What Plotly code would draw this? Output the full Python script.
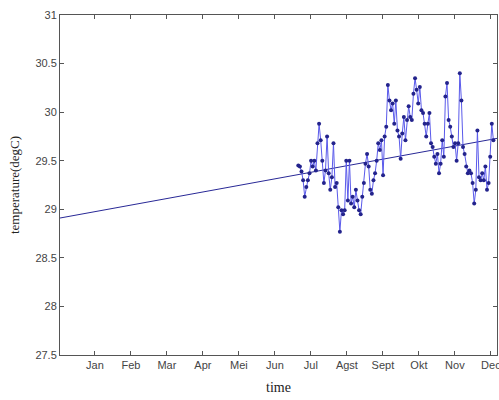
import numpy as np
import plotly.graph_objects as go

month_labels = ["Jan", "Feb", "Mar", "Apr", "Mei", "Jun", "Jul", "Agst", "Sept", "Okt", "Nov", "Dec"]
month_ticks = [1, 2, 3, 4, 5, 6, 7, 8, 9, 10, 11, 12]

temps = [29.45, 29.44, 29.39, 29.30, 29.13, 29.23, 29.30, 29.37, 29.50, 29.44,
         29.50, 29.40, 29.68, 29.88, 29.71, 29.50, 29.27, 29.40, 29.75, 29.37,
         29.20, 29.33, 29.68, 29.23, 29.27, 29.02, 28.77, 28.99, 28.95, 28.99,
         29.50, 29.09, 29.50, 29.06, 29.13, 29.02, 29.20, 29.09, 28.99, 28.95,
         29.13, 29.27, 29.47, 29.57, 29.44, 29.20, 29.16, 29.30, 29.37, 29.50,
         29.68, 29.61, 29.71, 29.35, 29.75, 29.85, 30.28, 30.12, 30.02, 30.09,
         29.88, 30.12, 29.81, 29.75, 29.52, 29.78, 29.95, 29.71, 29.92, 30.06,
         29.95, 29.92, 30.19, 30.35, 30.23, 30.09, 30.26, 30.02, 29.99, 29.88,
         29.75, 29.88, 29.99, 29.68, 29.64, 29.54, 29.47, 29.57, 29.37, 29.47,
         29.71, 29.54, 30.16, 30.30, 29.92, 29.85, 29.75, 29.64, 29.68, 29.50,
         29.68, 30.40, 30.12, 29.64, 29.57, 29.44, 29.37, 29.40, 29.37, 29.27,
         29.06, 29.20, 29.81, 29.33, 29.30, 29.37, 29.30, 29.44, 29.20, 29.27,
         29.54, 29.88, 29.71]
data_start_month = 6.65
data_end_month = 12.07

trend_x = [0.03, 12.17]
trend_y = [28.91, 29.73]

x_range = [0.03, 12.17]
y_range = [27.5, 31.0]
y_ticks = [27.5, 28, 28.5, 29, 29.5, 30, 30.5, 31]

months = np.linspace(data_start_month, data_end_month, len(temps))

fig = go.Figure()
fig.add_trace(go.Scatter(x=trend_x, y=trend_y, mode="lines",
                         line=dict(color="rgb(40,40,150)", width=1), showlegend=False))
fig.add_trace(go.Scatter(x=months, y=temps, mode="lines+markers",
                         line=dict(color="rgb(90,90,235)", width=1),
                         marker=dict(color="rgb(35,35,140)", size=4),
                         showlegend=False))

axis_common = dict(showgrid=False, zeroline=False, showline=True, linecolor="#555",
                   linewidth=1, mirror="ticks", ticks="inside", ticklen=4, automargin=False,
                   ticklabeloverflow="allow",
                   tickcolor="#555", tickfont=dict(family="Liberation Sans", size=11, color="#444"))
fig.update_xaxes(range=x_range, tickvals=month_ticks, ticktext=month_labels,
                 title=dict(text="time", font=dict(family="Liberation Serif", size=14, color="#222"),
                            standoff=11), **axis_common)
fig.update_yaxes(range=y_range, tickvals=y_ticks,
                 title=dict(text="temperature(degC)", font=dict(family="Liberation Serif", size=13, color="#222"),
                            standoff=12), **axis_common)
fig.update_layout(width=499, height=400, margin=dict(l=60, r=2, t=15, b=45),
                  plot_bgcolor="white", paper_bgcolor="white")
fig.write_html("out.html", config={"displayModeBar": False},
               post_script="document.body.style.margin='0';document.body.style.overflow='hidden';")
